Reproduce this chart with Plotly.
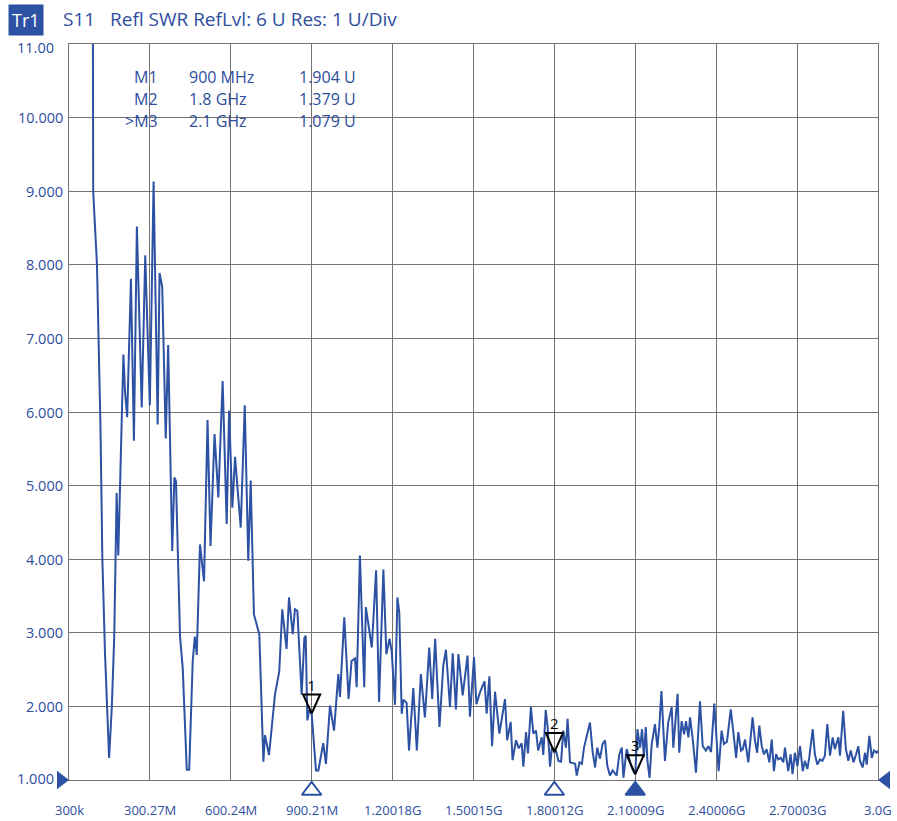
import plotly.graph_objects as go

# ---------------- data ----------------
freq_mhz = [
    0.3, 41, 88, 90, 104, 117, 124, 134, 149, 159, 168, 177, 183, 189, 202, 208, 216, 230, 241, 252,
    270, 283, 300, 314, 329, 336, 346, 359, 368, 383, 391, 397, 405, 412, 422, 437, 446, 459, 467, 474,
    486, 501, 514, 525, 540, 554, 570, 585, 594, 606, 616, 637, 652, 665, 674, 686, 706, 721, 727, 742,
    764, 780, 791, 807, 816, 830, 838, 847, 863, 873, 878, 884, 891, 900, 916, 925, 943, 953, 968, 983,
    999, 1005, 1021, 1037, 1048, 1061, 1067, 1079, 1095, 1101, 1123, 1139, 1150, 1166, 1177, 1189, 1197, 1209, 1218, 1225,
    1234, 1240, 1252, 1261, 1277, 1290, 1305, 1320, 1336, 1347, 1358, 1374, 1388, 1398, 1413, 1423, 1435, 1444, 1460, 1478,
    1487, 1502, 1511, 1524, 1541, 1549, 1559, 1569, 1580, 1596, 1617, 1625, 1638, 1645, 1658, 1668, 1679, 1685, 1695, 1702,
    1713, 1722, 1732, 1740, 1753, 1759, 1768, 1775, 1784, 1791, 1800, 1806, 1815, 1825, 1833, 1843, 1849, 1858, 1877, 1883,
    1893, 1902, 1910, 1922, 1932, 1942, 1951, 1959, 1969, 1979, 1988, 1996, 2006, 2016, 2031, 2041, 2050, 2056, 2068, 2075,
    2083, 2093, 2100, 2108, 2118, 2125, 2132, 2139, 2145, 2153, 2161, 2173, 2182, 2189, 2197, 2210, 2222, 2235, 2241, 2257,
    2263, 2272, 2281, 2288, 2297, 2303, 2313, 2325, 2340, 2350, 2362, 2371, 2381, 2393, 2402, 2409, 2420, 2429, 2440, 2454,
    2463, 2474, 2482, 2492, 2499, 2507, 2519, 2535, 2544, 2552, 2560, 2569, 2577, 2587, 2597, 2606, 2614, 2622, 2630, 2640,
    2649, 2655, 2661, 2667, 2676, 2683, 2692, 2701, 2711, 2721, 2729, 2738, 2745, 2758, 2766, 2775, 2785, 2794, 2803, 2812,
    2822, 2832, 2840, 2853, 2859, 2871, 2881, 2890, 2899, 2909, 2919, 2927, 2933, 2943, 2952, 2958, 2968, 2977, 2985, 2995,
    3000,
]
swr = [
    16.0, 15.0, 13.0, 9.0, 8.0, 5.8, 4.0, 2.7, 1.3, 1.99, 2.94, 4.9, 4.05, 4.95, 6.78, 6.28, 5.93, 7.81, 5.61, 8.52,
    6.06, 8.13, 6.09, 9.13, 5.83, 7.89, 7.70, 5.64, 6.91, 4.11, 5.11, 5.06, 4.0, 2.95, 2.52, 1.14, 1.14, 2.61, 2.95, 2.7,
    4.2, 3.7, 5.89, 4.18, 5.7, 4.84, 6.42, 4.48, 6.02, 4.7, 5.39, 4.43, 6.09, 3.98, 5.07, 3.25, 2.98, 1.25, 1.61, 1.34,
    2.16, 2.48, 3.32, 2.78, 3.48, 2.98, 3.32, 3.3, 2.16, 2.93, 2.96, 1.81, 1.95, 1.904, 1.13, 1.13, 1.5, 1.22, 2.01, 1.67,
    2.44, 2.13, 3.21, 2.1, 2.62, 2.65, 2.26, 4.05, 2.26, 3.35, 2.8, 3.85, 2.06, 3.86, 2.71, 2.92, 2.74, 2.02, 3.48, 3.27,
    1.9, 2.09, 2.05, 1.4, 2.25, 1.4, 2.44, 1.85, 2.8, 2.1, 2.92, 1.72, 2.55, 2.77, 1.99, 2.72, 1.96, 2.71, 2.15, 2.69,
    1.86, 2.67, 2.03, 2.19, 2.34, 1.9, 2.41, 1.46, 2.2, 1.63, 2.1, 1.54, 1.79, 1.27, 1.54, 1.43, 1.5, 1.18, 1.65, 1.36,
    1.99, 1.63, 1.67, 1.4, 1.58, 1.34, 1.95, 1.72, 1.18, 1.45, 1.379, 1.4, 1.26, 1.25, 1.67, 1.44, 1.83, 1.24, 1.22, 1.06,
    1.24, 1.22, 1.44, 1.63, 1.78, 1.38, 1.17, 1.44, 1.29, 1.49, 1.54, 1.2, 1.06, 1.13, 1.06, 1.35, 1.44, 1.03, 1.42, 1.33,
    1.21, 1.12, 1.079, 1.69, 1.44, 1.69, 1.31, 1.72, 1.26, 1.03, 1.49, 1.76, 1.44, 1.72, 2.21, 1.26, 1.78, 1.99, 1.44, 2.17,
    1.37, 1.8, 1.62, 1.8, 1.58, 1.85, 1.56, 1.1, 2.07, 1.46, 1.4, 1.46, 1.38, 2.04, 1.55, 1.12, 1.67, 1.49, 1.52, 1.96,
    1.67, 1.3, 1.65, 1.4, 1.42, 1.55, 1.24, 1.85, 1.53, 1.37, 1.74, 1.46, 1.35, 1.42, 1.24, 1.55, 1.12, 1.35, 1.28, 1.3,
    1.24, 1.44, 1.28, 1.12, 1.35, 1.08, 1.37, 1.19, 1.46, 1.12, 1.26, 1.15, 1.3, 1.69, 1.35, 1.21, 1.28, 1.26, 1.33, 1.76,
    1.33, 1.58, 1.42, 1.58, 1.33, 1.94, 1.42, 1.26, 1.4, 1.24, 1.35, 1.46, 1.26, 1.17, 1.37, 1.21, 1.6, 1.3, 1.4, 1.37,
    1.4,
]

marker_labels = ["1", "2", "3"]
marker_freq = [900, 1800, 2100]
marker_swr = [1.904, 1.379, 1.079]
marker_active = [False, False, True]

table_names = ["M1", "M2", ">M3"]
table_freqs = ["900 MHz", "1.8 GHz", "2.1 GHz"]
table_vals = ["1.904 U", "1.379 U", "1.079 U"]

x_tick_vals = [0.3, 300.27, 600.24, 900.21, 1200.18, 1500.15, 1800.12, 2100.09, 2400.06, 2700.03, 3000]
x_tick_text = ["300k", "300.27M", "600.24M", "900.21M", "1.20018G", "1.50015G",
               "1.80012G", "2.10009G", "2.40006G", "2.70003G", "3.0G"]
y_tick_vals = [11, 10, 9, 8, 7, 6, 5, 4, 3, 2, 1]
y_tick_text = ["11.00", "10.000", "9.000", "8.000", "7.000", "6.000",
               "5.000", "4.000", "3.000", "2.000", "1.000"]

# ---------------- style / layout ----------------
W, H = 897, 821
PL, PR, PT, PB = 69, 878, 44, 780          # plot box in pixels
PW, PH = PR - PL, PB - PT
X0, X1 = 0.3, 3000
Y0, Y1 = 1, 11
px_per_x = PW / (X1 - X0)
px_per_y = PH / (Y1 - Y0)

BLUE = "#2D52A3"
TXT = "#2E4E9E"
GRID = "#737373"
FONT = "Open Sans"


def paper_x(px):
    return px / W


def paper_y(py):
    return (H - py) / H


fig = go.Figure()

# main trace
fig.add_trace(go.Scatter(x=freq_mhz, y=swr, mode="lines",
                         line=dict(color=BLUE, width=2), hoverinfo="skip",
                         showlegend=False))

# data markers (hollow black down triangles, tip on the value)
tri_w = 8.5 / px_per_x
tri_h = 19 / px_per_y
tx, ty = [], []
for f, v in zip(marker_freq, marker_swr):
    tx += [f, f - tri_w, f + tri_w, f, None]
    ty += [v, v + tri_h, v + tri_h, v, None]
fig.add_trace(go.Scatter(x=tx, y=ty, mode="lines", line=dict(color="black", width=2),
                         hoverinfo="skip", showlegend=False))
fig.add_trace(go.Scatter(x=marker_freq, y=[v + tri_h for v in marker_swr],
                         mode="text", text=marker_labels, textposition="top center",
                         textfont=dict(family=FONT, size=15, color="black"),
                         hoverinfo="skip", showlegend=False, cliponaxis=False))

# full-figure axes (same scale) for the symbols that sit outside the plot box
fig.add_trace(go.Scatter(
    x=marker_freq, y=[Y0 - 10.5 / px_per_y] * len(marker_freq), mode="markers",
    xaxis="x2", yaxis="y2",
    marker=dict(symbol=["triangle-up" if a else "triangle-up-open" for a in marker_active],
                size=17, color=BLUE, line=dict(color=BLUE, width=2)),
    hoverinfo="skip", showlegend=False))
fig.add_trace(go.Scatter(
    x=[X0 - 8 / px_per_x, X1 + 8 / px_per_x], y=[Y0, Y0], mode="markers",
    xaxis="x2", yaxis="y2",
    marker=dict(symbol=["triangle-right", "triangle-left"], size=16, color=BLUE),
    hoverinfo="skip", showlegend=False))

annotations = []
# y tick labels
for v, t in zip(y_tick_vals, y_tick_text):
    edge = t in ("11.00", "1.000")
    annotations.append(dict(
        xref="paper", yref="y", x=paper_x(56 if edge else 65), y=v,
        text=t, showarrow=False, xanchor="right", yanchor="middle",
        yshift=-3 if t == "11.00" else (2 if t == "1.000" else 0),
        font=dict(family=FONT, size=14.5, color=TXT)))
# x tick labels
for v, t in zip(x_tick_vals, x_tick_text):
    annotations.append(dict(
        xref="x", yref="paper", x=v, y=paper_y(810), text=t, showarrow=False,
        xanchor="center", yanchor="middle", font=dict(family=FONT, size=13, color=TXT)))

# header
annotations.append(dict(xref="paper", yref="paper", x=paper_x(8), y=paper_y(19.5),
                        text="Tr1", showarrow=False, xanchor="left", yanchor="middle",
                        bgcolor="#2D52A3", borderpad=3,
                        font=dict(family=FONT, size=18, color="white")))
annotations.append(dict(xref="paper", yref="paper", x=paper_x(61), y=paper_y(19),
                        text="S11", showarrow=False, xanchor="left", yanchor="middle",
                        font=dict(family=FONT, size=19, color=TXT)))
annotations.append(dict(xref="paper", yref="paper", x=paper_x(108), y=paper_y(19),
                        text="Refl SWR RefLvl: 6 U Res: 1 U/Div", showarrow=False,
                        xanchor="left", yanchor="middle",
                        font=dict(family=FONT, size=19, color=TXT)))

# marker table
row_y = [77, 99, 121]
for ry, n, fq, val in zip(row_y, table_names, table_freqs, table_vals):
    annotations.append(dict(xref="paper", yref="paper", x=paper_x(160), y=paper_y(ry),
                            text=n, showarrow=False, xanchor="right", yanchor="middle",
                            font=dict(family=FONT, size=16, color=TXT)))
    annotations.append(dict(xref="paper", yref="paper", x=paper_x(187), y=paper_y(ry),
                            text=fq, showarrow=False, xanchor="left", yanchor="middle",
                            font=dict(family=FONT, size=16, color=TXT)))
    annotations.append(dict(xref="paper", yref="paper", x=paper_x(297), y=paper_y(ry),
                            text=val, showarrow=False, xanchor="left", yanchor="middle",
                            font=dict(family=FONT, size=16, color=TXT)))

shapes = [dict(type="rect", xref="paper", yref="paper",
               x0=paper_x(118), x1=paper_x(372), y0=paper_y(132), y1=paper_y(55),
               fillcolor="white", line=dict(width=0), layer="between")]

axis_style = dict(showticklabels=False, showgrid=True, gridcolor=GRID, gridwidth=1.3,
                  zeroline=False, showline=True, linecolor=GRID, linewidth=1.3,
                  mirror=True, ticks="")

fig.update_layout(
    width=W, height=H,
    margin=dict(l=0, r=0, t=0, b=0, pad=0),
    paper_bgcolor="white", plot_bgcolor="rgba(0,0,0,0)",
    showlegend=False, hovermode=False,
    annotations=annotations, shapes=shapes,
    xaxis=dict(range=[X0, X1], tickvals=x_tick_vals, domain=[PL / W, PR / W],
               anchor="y", **axis_style),
    yaxis=dict(range=[Y0, Y1], tickvals=y_tick_vals, domain=[(H - PB) / H, (H - PT) / H],
               anchor="x", **axis_style),
    xaxis2=dict(range=[X0 - PL / px_per_x, X1 + (W - PR) / px_per_x], domain=[0, 1],
                anchor="y2", visible=False, fixedrange=True),
    yaxis2=dict(range=[Y0 - (H - PB) / px_per_y, Y1 + PT / px_per_y], domain=[0, 1],
                anchor="x2", visible=False, fixedrange=True),
)

fig.write_html("out.html", config={"displayModeBar": False},
               post_script="document.body.style.margin='0';")
